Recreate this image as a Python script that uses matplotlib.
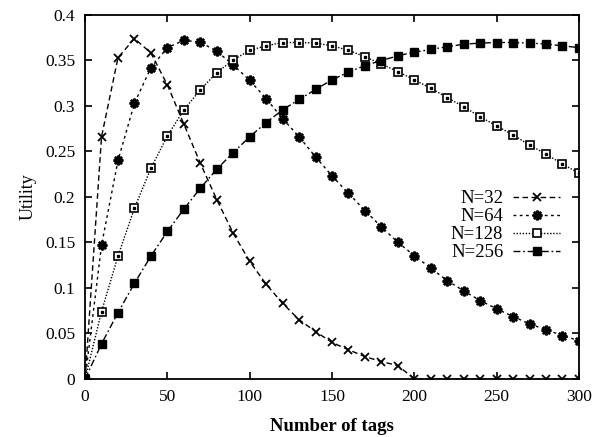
import numpy as np
import matplotlib
matplotlib.use("Agg")
import matplotlib.pyplot as plt

# number of tags (sampled every 10)
tags = list(range(0, 310, 10))

util_n32 = [0.0, 0.266, 0.353, 0.374, 0.358, 0.323, 0.280, 0.237, 0.197, 0.160,
            0.129, 0.104, 0.083, 0.065, 0.052, 0.040, 0.032, 0.0245, 0.019, 0.0146,
            0.0, 0.0, 0.0, 0.0, 0.0, 0.0, 0.0, 0.0, 0.0, 0.0, 0.0]
util_n64 = [0.0, 0.147, 0.240, 0.303, 0.342, 0.364, 0.372, 0.370, 0.360, 0.345,
            0.328, 0.308, 0.286, 0.266, 0.244, 0.223, 0.204, 0.185, 0.167, 0.150,
            0.1355, 0.1216, 0.108, 0.0967, 0.086, 0.077, 0.0685, 0.0604, 0.054, 0.0476, 0.042]
util_n128 = [0.0, 0.074, 0.135, 0.1876, 0.2315, 0.267, 0.2956, 0.3176, 0.3366, 0.3505,
             0.361, 0.366, 0.3696, 0.3696, 0.369, 0.366, 0.361, 0.354, 0.346, 0.3377,
             0.3286, 0.3194, 0.309, 0.299, 0.288, 0.278, 0.268, 0.257, 0.247, 0.236, 0.226]
util_n256 = [0.0, 0.0385, 0.0729, 0.105, 0.135, 0.162, 0.1865, 0.2095, 0.2304, 0.2487,
             0.266, 0.2817, 0.2956, 0.307, 0.318, 0.3286, 0.337, 0.3443, 0.3498, 0.355,
             0.359, 0.362, 0.365, 0.3677, 0.369, 0.3696, 0.3696, 0.369, 0.368, 0.366, 0.364]

plt.rcParams["font.family"] = ["Liberation Serif", "DejaVu Serif"]

fig = plt.figure(figsize=(5.95, 4.37), dpi=100)
ax = fig.add_axes([0.143, 0.133, 0.830, 0.833])

k = "black"
l32, = ax.plot(tags, util_n32, color=k, lw=1.0, ls=(0, (4, 2.5)), marker="x",
               ms=6, mew=1.3)
l64, = ax.plot(tags, util_n64, color=k, lw=1.0, ls=(0, (2, 2.5)), marker=(8, 2, 0),
               ms=7, mew=1.8)
l128, = ax.plot(tags, util_n128, color=k, lw=1.0, ls=(0, (1, 1.2)), marker="s",
                ms=6, mew=1.2, mfc="white")
ax.plot(tags, util_n128, ls="none", marker="s", ms=1.5, color=k)
l256, = ax.plot(tags, util_n256, color=k, lw=1.0, ls=(0, (5, 2, 1.2, 2)), marker="s",
                ms=5.5, mfc=k)

ax.set_xlim(0, 300)
ax.set_ylim(0, 0.4)
ax.set_xticks(range(0, 301, 50))
ax.set_yticks(np.arange(0, 0.401, 0.05))
ax.set_yticklabels(["0", "0.05", "0.1", "0.15", "0.2", "0.25", "0.3", "0.35", "0.4"])
ax.tick_params(direction="in", top=True, right=True, length=5, width=1.2,
               labelsize=12.5, pad=7)
for s in ax.spines.values():
    s.set_linewidth(1.3)

ax.set_xlabel("Number of tags", fontsize=13.5, fontweight="bold", labelpad=10)
ax.set_ylabel("Utility", fontsize=13, labelpad=6)

leg = ax.legend([l32, l64, l128, l256], ["N=32", "N=64", "N=128", "N=256"],
                loc="upper right", bbox_to_anchor=(0.977, 0.539), frameon=False,
                markerfirst=False, handlelength=2.5, handletextpad=0.53,
                labelspacing=0.05, fontsize=13.5, numpoints=1, borderaxespad=0)

fig.savefig("out.png", dpi=100)
